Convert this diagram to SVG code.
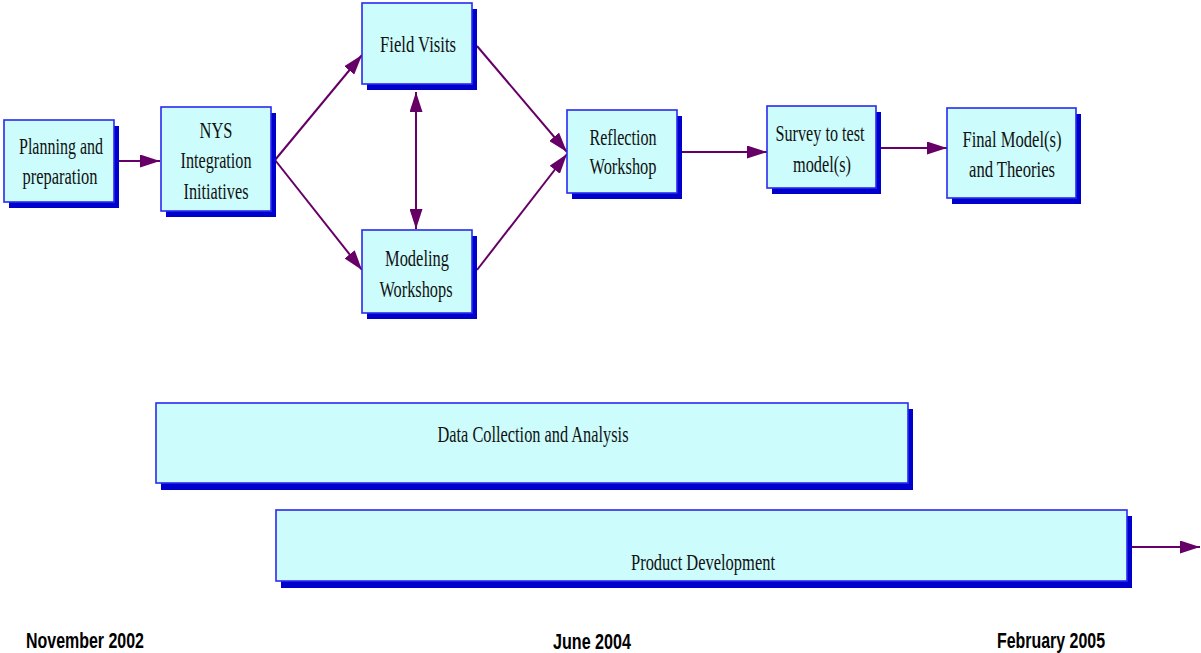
<svg xmlns="http://www.w3.org/2000/svg" width="1201" height="653" viewBox="0 0 1201 653">
<defs>
<style>
.sh{fill:#0000cc}
.bx{fill:#ccfcfc;stroke:#2a2af0;stroke-width:1.6}
.t{font-family:"Liberation Serif","Times New Roman",serif;font-size:23px;fill:#111;text-anchor:middle}
.d{font-family:"Liberation Sans",Arial,sans-serif;font-size:22px;font-weight:bold;fill:#000;text-anchor:middle}
.c{stroke:#660066;stroke-width:2;fill:none;marker-end:url(#ah)}
</style>
<marker id="ah" markerUnits="userSpaceOnUse" markerWidth="20" markerHeight="13" refX="20" refY="6.5" orient="auto-start-reverse">
<path d="M0,0 L20,6.5 L0,13 z" fill="#660066"/>
</marker>
</defs>
<rect width="1201" height="653" fill="#fff"/>
<g id="connectors">
<line class="c" x1="119" y1="161" x2="160" y2="161"/>
<line class="c" x1="275" y1="160" x2="362" y2="55"/>
<line class="c" x1="275" y1="160" x2="362" y2="270"/>
<line class="c" x1="416" y1="92" x2="416" y2="229" style="marker-start:url(#ah)"/>
<line class="c" x1="477" y1="46" x2="567" y2="152"/>
<line class="c" x1="477" y1="270" x2="567" y2="154"/>
<line class="c" x1="682" y1="152" x2="767" y2="152"/>
<line class="c" x1="881" y1="148" x2="947" y2="148"/>
<line class="c" x1="1132" y1="547" x2="1200" y2="547"/>
</g>
<g id="planning">
<rect class="sh" x="9" y="126" width="110" height="82"/>
<rect class="bx" x="4" y="120" width="110" height="82"/>
<text class="t" x="61" y="154" textLength="84" lengthAdjust="spacingAndGlyphs">Planning and</text>
<text class="t" x="60" y="184" textLength="75" lengthAdjust="spacingAndGlyphs">preparation</text>
</g>
<g id="nys">
<rect class="sh" x="166" y="113" width="110" height="104"/>
<rect class="bx" x="161" y="107" width="110" height="104"/>
<text class="t" x="216" y="138" textLength="33" lengthAdjust="spacingAndGlyphs">NYS</text>
<text class="t" x="216" y="168" textLength="71" lengthAdjust="spacingAndGlyphs">Integration</text>
<text class="t" x="216" y="199" textLength="65" lengthAdjust="spacingAndGlyphs">Initiatives</text>
</g>
<g id="field-visits">
<rect class="sh" x="367" y="9" width="110" height="81"/>
<rect class="bx" x="362" y="3" width="110" height="81"/>
<text class="t" x="418" y="52" textLength="76" lengthAdjust="spacingAndGlyphs">Field Visits</text>
</g>
<g id="modeling">
<rect class="sh" x="367" y="236" width="110" height="83"/>
<rect class="bx" x="362" y="230" width="110" height="83"/>
<text class="t" x="417" y="266" textLength="64" lengthAdjust="spacingAndGlyphs">Modeling</text>
<text class="t" x="416" y="297" textLength="73" lengthAdjust="spacingAndGlyphs">Workshops</text>
</g>
<g id="reflection">
<rect class="sh" x="572" y="116" width="110" height="83"/>
<rect class="bx" x="567" y="110" width="110" height="83"/>
<text class="t" x="623" y="145" textLength="67" lengthAdjust="spacingAndGlyphs">Reflection</text>
<text class="t" x="623" y="174" textLength="67" lengthAdjust="spacingAndGlyphs">Workshop</text>
</g>
<g id="survey">
<rect class="sh" x="772" y="112" width="109" height="82"/>
<rect class="bx" x="767" y="106" width="109" height="82"/>
<text class="t" x="820" y="141" textLength="89" lengthAdjust="spacingAndGlyphs">Survey to test</text>
<text class="t" x="822" y="172" textLength="58" lengthAdjust="spacingAndGlyphs">model(s)</text>
</g>
<g id="final">
<rect class="sh" x="952" y="114" width="129" height="90"/>
<rect class="bx" x="947" y="108" width="129" height="90"/>
<text class="t" x="1012" y="147" textLength="99" lengthAdjust="spacingAndGlyphs">Final Model(s)</text>
<text class="t" x="1012" y="177" textLength="86" lengthAdjust="spacingAndGlyphs">and Theories</text>
</g>
<g id="data-collection">
<rect class="sh" x="161" y="409" width="752" height="81"/>
<rect class="bx" x="156" y="403" width="752" height="80"/>
<text class="t" x="533" y="442" textLength="191" lengthAdjust="spacingAndGlyphs">Data Collection and Analysis</text>
</g>
<g id="product-development">
<rect class="sh" x="281" y="516" width="851" height="72"/>
<rect class="bx" x="276" y="510" width="851" height="71"/>
<text class="t" x="703" y="570" textLength="144" lengthAdjust="spacingAndGlyphs">Product Development</text>
</g>
<g id="dates">
<text class="d" x="85" y="648" textLength="118" lengthAdjust="spacingAndGlyphs">November 2002</text>
<text class="d" x="592" y="649" textLength="78" lengthAdjust="spacingAndGlyphs">June 2004</text>
<text class="d" x="1051" y="648" textLength="108" lengthAdjust="spacingAndGlyphs">February 2005</text>
</g>
</svg>
